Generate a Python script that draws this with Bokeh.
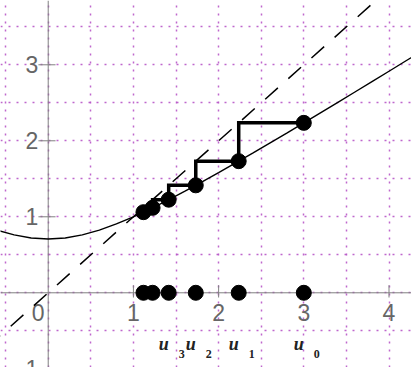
from bokeh.plotting import figure
from bokeh.models import Span, Slope, FixedTicker
from bokeh.core.properties import value
from bokeh.embed import file_html
from bokeh.resources import INLINE

# curve y = f(x)
curve_x = [-0.6, -0.4, -0.2, 0.0, 0.2, 0.4, 0.6, 0.8, 1.0, 1.2, 1.4, 1.6, 1.8,
           2.0, 2.2, 2.4, 2.6, 2.8, 3.0, 3.2, 3.4, 3.6, 3.8, 4.0, 4.2, 4.4]
curve_y = [0.825, 0.762, 0.721, 0.707, 0.721, 0.762, 0.825, 0.906, 1.0, 1.105,
           1.217, 1.334, 1.456, 1.581, 1.709, 1.838, 1.970, 2.102, 2.236, 2.371,
           2.506, 2.642, 2.778, 2.915, 3.053, 3.191]

# sequence terms u0, u1, ...
u_vals = [3.0, 2.236, 1.732, 1.414, 1.225, 1.118, 1.061]
u_names = ["0", "1", "2", "3"]

x_ticks = [1, 2, 3, 4]
y_ticks = [1, 2, 3]
grid_x = [-0.5, 0, 0.5, 1, 1.5, 2, 2.5, 3, 3.5, 4]
grid_y = [-0.5, 0, 0.5, 1, 1.5, 2, 2.5, 3, 3.5]

p = figure(width=411, height=367, output_backend="svg", toolbar_location=None,
           x_range=(-0.560, 4.264), y_range=(-0.983, 3.846), min_border=0)
p.outline_line_color = None
p.xaxis.visible = False
p.yaxis.visible = False
p.background_fill_color = "white"

grid_color = "#b44cc4"
p.xgrid.ticker = FixedTicker(ticks=grid_x)
p.ygrid.ticker = FixedTicker(ticks=grid_y)
for g in (p.xgrid, p.ygrid):
    g.grid_line_color = grid_color
    g.grid_line_dash = "2 6"
    g.grid_line_width = 1.5
    g.grid_line_alpha = 0.85

# axes crossing at origin
p.add_layout(Span(location=0, dimension="height", line_color="#808080", line_width=1, level="underlay"))
p.add_layout(Span(location=0, dimension="width", line_color="#808080", line_width=1, level="underlay"))

# ticks
p.segment(x0=[-0.115] * len(y_ticks), y0=y_ticks, x1=[0.086] * len(y_ticks), y1=y_ticks,
          line_color="#808080", line_width=1)
p.segment(x0=x_ticks, y0=[0.1] * len(x_ticks), x1=x_ticks, y1=[-0.062] * len(x_ticks),
          line_color="#808080", line_width=1)

# tick labels
lab_font = value("Liberation Sans")
lab_color = "#666666"
p.text(x=[0] * len(y_ticks), y=y_ticks, text=[str(t) for t in y_ticks],
       text_font=lab_font, text_font_size="23px", text_color=lab_color,
       text_align="right", text_baseline="middle", x_offset=-10)
p.text(x=x_ticks, y=[0] * len(x_ticks), text=[str(t) for t in x_ticks],
       text_font=lab_font, text_font_size="23px", text_color=lab_color,
       text_align="center", text_baseline="top", y_offset=11)
p.text(x=[0], y=[0], text=["0"], text_font=lab_font, text_font_size="23px",
       text_color=lab_color, text_align="center", text_baseline="top",
       x_offset=-10, y_offset=11)
p.text(x=[0], y=[-1], text=["-1"], text_font=lab_font, text_font_size="23px",
       text_color=lab_color, text_align="right", text_baseline="middle", x_offset=-10)

# y = x dashed
p.add_layout(Slope(gradient=1, y_intercept=0, line_color="black", line_width=1.5,
                   line_dash="17 14"))

# curve
p.line(curve_x, curve_y, line_color="black", line_width=1.4)

# cobweb staircase
path_x, path_y = [], []
for n in range(len(u_vals) - 1):
    path_x.append(u_vals[n]); path_y.append(u_vals[n + 1])
    path_x.append(u_vals[n + 1]); path_y.append(u_vals[n + 1])
path_x = path_x[:-1]; path_y = path_y[:-1]
p.line(path_x, path_y, line_color="black", line_width=3.5, line_join="miter")

# dots on curve and on x-axis
dots_x = u_vals[:-1]
dots_y = u_vals[1:]
p.scatter(dots_x, dots_y, size=15, color="black")
p.scatter(dots_x, [0] * len(dots_x), size=15, color="black")

# u labels
serif = value("Liberation Serif")
lab_x = [u_vals[int(k)] for k in u_names]
p.text(x=lab_x, y=[0] * len(lab_x), text=["u"] * len(lab_x), text_font=serif,
       text_font_size="18px", text_font_style="bold italic", text_color="#222222",
       text_align="center", text_baseline="middle", x_offset=-5, y_offset=51)
p.text(x=lab_x, y=[0] * len(lab_x), text=u_names, text_font=serif,
       text_font_size="12px", text_font_style="bold", text_color="#222222",
       text_align="center", text_baseline="middle", x_offset=13, y_offset=61)

open("out.html", "w").write(file_html(p, INLINE))
